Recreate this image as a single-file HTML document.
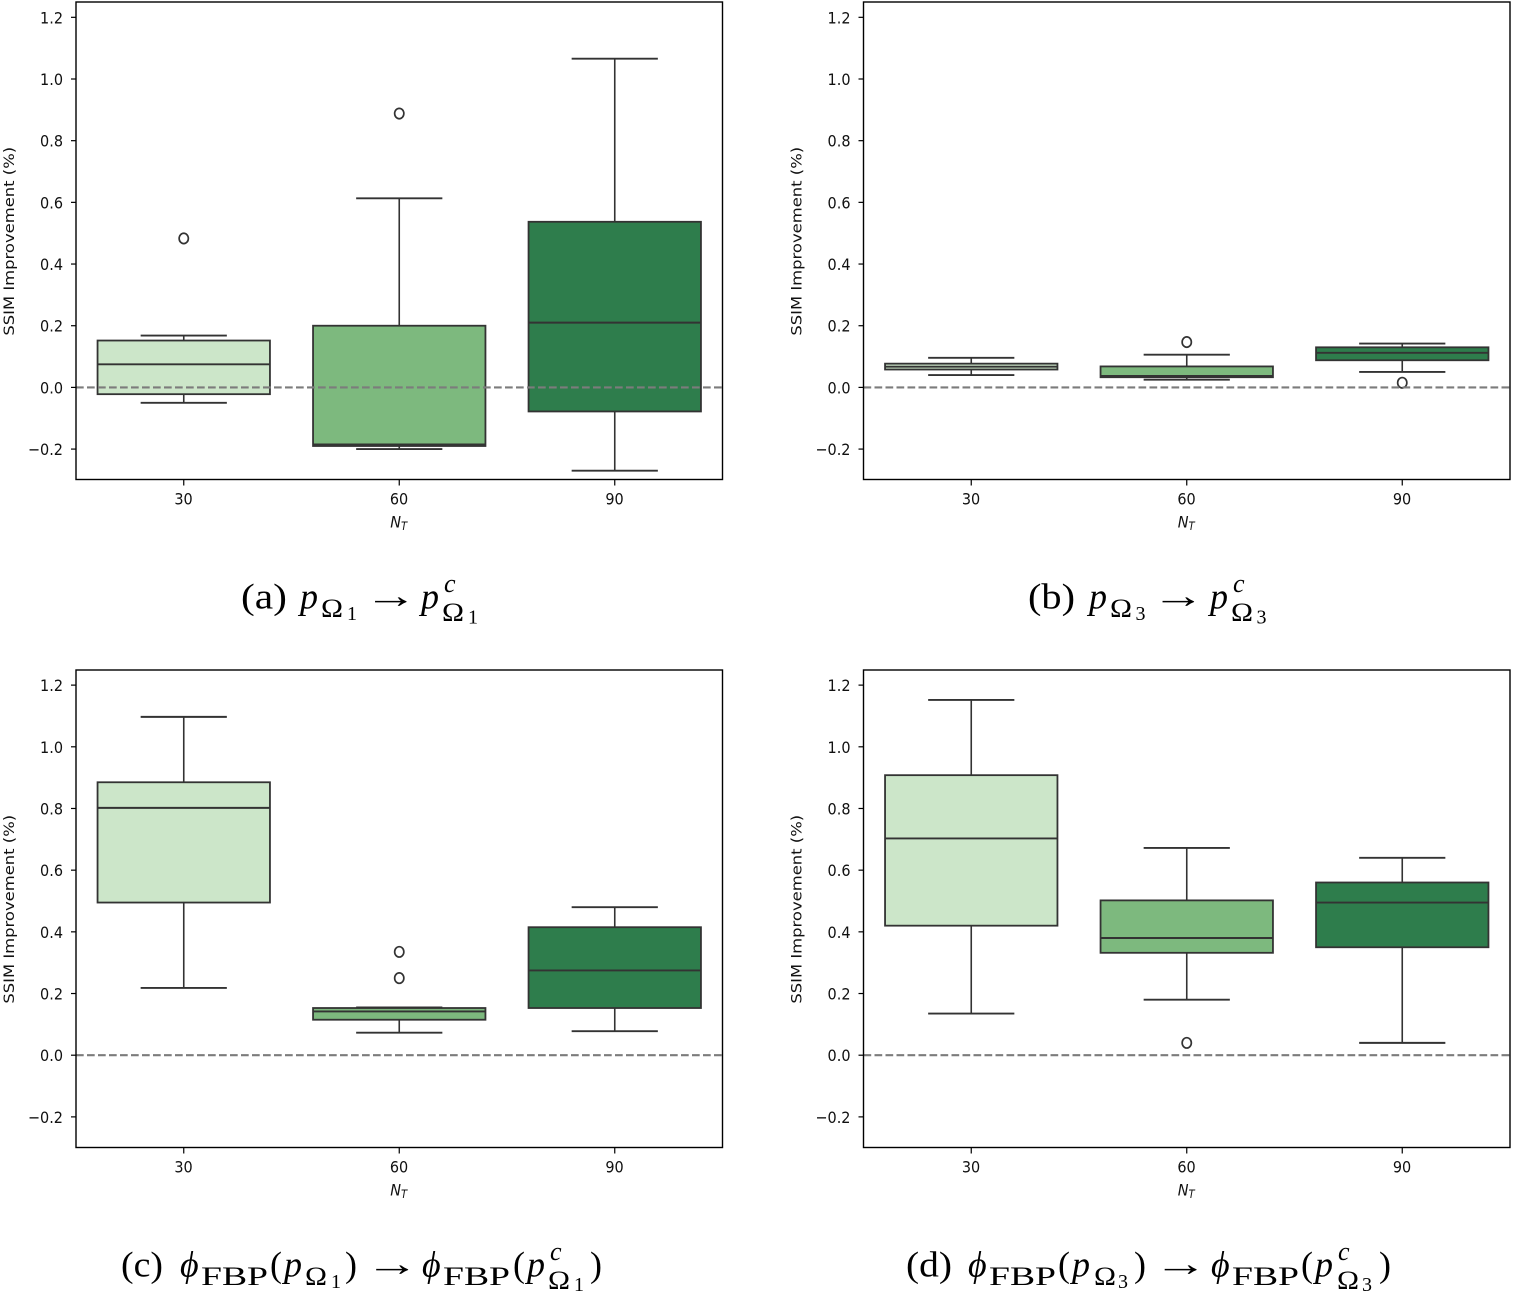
<!DOCTYPE html>
<html lang="en">
<head>
<meta charset="utf-8">
<title>SSIM improvement box plots</title>
<style>
html,body{margin:0;padding:0;background:#fff;}
#figure{display:block;filter:blur(0.35px);}
.tick{font-family:"DejaVu Sans",sans-serif;font-size:16.4px;fill:#111;}
.cap{font-family:"Liberation Serif",serif;fill:#000;}
.it{font-style:italic;}
</style>
</head>
<body>
<svg id="figure" xmlns="http://www.w3.org/2000/svg" width="1513" height="1291" viewBox="0 0 1513 1291">
  <g id="plots"></g>

  <g class="cap">
    <text x="241" y="608.5" font-size="36" textLength="46" lengthAdjust="spacingAndGlyphs">(a)</text>
    <text x="300" y="608.5" font-size="36" class="it">p</text>
    <text x="321" y="617" font-size="26" textLength="22" lengthAdjust="spacingAndGlyphs">Ω</text>
    <text x="347" y="620" font-size="20">1</text>
    <text transform="translate(364 607.5) scale(1.48 1)" font-size="36">→</text>
    <text x="421" y="608.5" font-size="36" class="it">p</text>
    <text x="444" y="592" font-size="26" class="it">c</text>
    <text x="442" y="621" font-size="26" textLength="22" lengthAdjust="spacingAndGlyphs">Ω</text>
    <text x="468" y="623.5" font-size="20">1</text>
  </g>
  <g class="cap">
    <text x="1028" y="608.5" font-size="36" textLength="47" lengthAdjust="spacingAndGlyphs">(b)</text>
    <text x="1089" y="608.5" font-size="36" class="it">p</text>
    <text x="1110" y="617" font-size="26" textLength="22" lengthAdjust="spacingAndGlyphs">Ω</text>
    <text x="1135.5" y="620" font-size="20">3</text>
    <text transform="translate(1151.5 607.5) scale(1.48 1)" font-size="36">→</text>
    <text x="1210" y="608.5" font-size="36" class="it">p</text>
    <text x="1233" y="592" font-size="26" class="it">c</text>
    <text x="1231" y="621" font-size="26" textLength="22" lengthAdjust="spacingAndGlyphs">Ω</text>
    <text x="1256.5" y="623.5" font-size="20">3</text>
  </g>
  <g class="cap">
    <text x="121" y="1276.5" font-size="36" textLength="42" lengthAdjust="spacingAndGlyphs">(c)</text>
    <text x="180" y="1276.5" font-size="36" class="it">ϕ</text>
    <text x="201" y="1285" font-size="26" textLength="67" lengthAdjust="spacingAndGlyphs" font-weight="400">FBP</text>
    <text x="270" y="1276.5" font-size="36">(</text>
    <text x="284" y="1276.5" font-size="36" class="it">p</text>
    <text x="305" y="1285" font-size="26" textLength="22" lengthAdjust="spacingAndGlyphs">Ω</text>
    <text x="331" y="1288" font-size="20">1</text>
    <text x="345" y="1276.5" font-size="36">)</text>
    <text transform="translate(365 1275.5) scale(1.5 1)" font-size="36">→</text>
    <text x="422" y="1276.5" font-size="36" class="it">ϕ</text>
    <text x="443" y="1285" font-size="26" textLength="67" lengthAdjust="spacingAndGlyphs">FBP</text>
    <text x="513" y="1276.5" font-size="36">(</text>
    <text x="527" y="1276.5" font-size="36" class="it">p</text>
    <text x="550" y="1260" font-size="26" class="it">c</text>
    <text x="548" y="1289" font-size="26" textLength="22" lengthAdjust="spacingAndGlyphs">Ω</text>
    <text x="574" y="1291" font-size="20">1</text>
    <text x="590" y="1276.5" font-size="36">)</text>
  </g>
  <g class="cap">
    <text x="906" y="1276.5" font-size="36" textLength="46" lengthAdjust="spacingAndGlyphs">(d)</text>
    <text x="968" y="1276.5" font-size="36" class="it">ϕ</text>
    <text x="989" y="1285" font-size="26" textLength="67" lengthAdjust="spacingAndGlyphs">FBP</text>
    <text x="1058" y="1276.5" font-size="36">(</text>
    <text x="1072" y="1276.5" font-size="36" class="it">p</text>
    <text x="1094" y="1285" font-size="26" textLength="22" lengthAdjust="spacingAndGlyphs">Ω</text>
    <text x="1118" y="1288" font-size="20">3</text>
    <text x="1134" y="1276.5" font-size="36">)</text>
    <text transform="translate(1153.5 1275.5) scale(1.5 1)" font-size="36">→</text>
    <text x="1211" y="1276.5" font-size="36" class="it">ϕ</text>
    <text x="1232" y="1285" font-size="26" textLength="67" lengthAdjust="spacingAndGlyphs">FBP</text>
    <text x="1301" y="1276.5" font-size="36">(</text>
    <text x="1315" y="1276.5" font-size="36" class="it">p</text>
    <text x="1338" y="1260" font-size="26" class="it">c</text>
    <text x="1337" y="1289" font-size="26" textLength="22" lengthAdjust="spacingAndGlyphs">Ω</text>
    <text x="1362" y="1291" font-size="20">3</text>
    <text x="1379" y="1276.5" font-size="36">)</text>
  </g>
</svg>
<script>
const categories = ['30', '60', '90'];
const yTicks = [-0.2, 0, 0.2, 0.4, 0.6, 0.8, 1.0, 1.2];
const yLabel = 'SSIM Improvement (%)';
const panelIds = ['a', 'b', 'c', 'd'];

// each row: whisker-low, q1, median, q3, whisker-high (one row per category)
const statsA = [[-0.05, -0.022, 0.075, 0.152, 0.168], [-0.2, -0.19, -0.185, 0.2, 0.613], [-0.27, -0.078, 0.21, 0.537, 1.066]];
const statsB = [[0.04, 0.058, 0.067, 0.077, 0.096], [0.025, 0.033, 0.037, 0.068, 0.106], [0.05, 0.088, 0.112, 0.13, 0.142]];
const statsC = [[0.218, 0.495, 0.802, 0.885, 1.097], [0.073, 0.115, 0.142, 0.153, 0.155], [0.078, 0.153, 0.275, 0.415, 0.48]];
const statsD = [[0.135, 0.42, 0.703, 0.908, 1.152], [0.18, 0.332, 0.38, 0.502, 0.672], [0.04, 0.35, 0.495, 0.56, 0.64]];

const outliersA = [[0.483], [0.888], []];
const outliersB = [[], [0.147], [0.015]];
const outliersC = [[], [0.25, 0.335], []];
const outliersD = [[], [0.04], []];

const allStats = [statsA, statsB, statsC, statsD];
const allOutliers = [outliersA, outliersB, outliersC, outliersD];

const boxColors = ['#cce6c9', '#7db97e', '#2e7d4c'];
const LINE = '#333333';
const NS = 'http://www.w3.org/2000/svg';
const root = document.getElementById('plots');
const SQUEEZE = 0.88;

const frames = [
  { left: 76, right: 722.5, top: 2, bottom: 479.5, zero: 387.4 },
  { left: 863.5, right: 1510, top: 2, bottom: 479.5, zero: 387.4 },
  { left: 76, right: 722.5, top: 670, bottom: 1147.5, zero: 1055.2 },
  { left: 863.5, right: 1510, top: 670, bottom: 1147.5, zero: 1055.2 }
];

function mk(parent, tag, props) {
  const el = document.createElementNS(NS, tag);
  for (const k in props) el.setAttribute(k, props[k]);
  parent.appendChild(el);
  return el;
}

function fmtTick(v) {
  const s = Math.abs(v).toFixed(1);
  return v < 0 ? '\u2212' + s : s;
}

frames.forEach(function (f, p) {
  const xScale = function (i) { return f.left + (i + 0.5) * (f.right - f.left) / categories.length; };
  const band = (f.right - f.left) / categories.length;
  const yScale = function (v) { return f.zero - v * 308.4; };

  const g = mk(root, 'g', {});
  
  

  allStats[p].forEach(function (s, i) {
    const cx = xScale(i);
    const bw = band * 0.8;
    const capW = band * 0.4;
    const box = mk(g, 'g', {});
    
    

    const vStyle = { stroke: LINE, 'stroke-width': 1.6, fill: 'none' };
    const hStyle = { stroke: LINE, 'stroke-width': 1.9, fill: 'none' };
    const w1 = mk(box, 'line', Object.assign({ x1: cx, x2: cx, y1: yScale(s[0]), y2: yScale(s[1]) }, vStyle));
    
    
    const w2 = mk(box, 'line', Object.assign({ x1: cx, x2: cx, y1: yScale(s[3]), y2: yScale(s[4]) }, vStyle));
    
    
    const c1 = mk(box, 'line', Object.assign({ x1: cx - capW / 2, x2: cx + capW / 2, y1: yScale(s[0]), y2: yScale(s[0]) }, hStyle));
    
    
    const c2 = mk(box, 'line', Object.assign({ x1: cx - capW / 2, x2: cx + capW / 2, y1: yScale(s[4]), y2: yScale(s[4]) }, hStyle));
    
    
    const rect = mk(box, 'rect', { x: cx - bw / 2, y: yScale(s[3]), width: bw, height: yScale(s[1]) - yScale(s[3]), fill: boxColors[i], stroke: LINE, 'stroke-width': 1.8 });
    
    
    const med = mk(box, 'line', Object.assign({ x1: cx - bw / 2, x2: cx + bw / 2, y1: yScale(s[2]), y2: yScale(s[2]) }, hStyle));
    
    

    allOutliers[p][i].forEach(function (o) {
      const dot = mk(box, 'ellipse', { cx: cx, cy: yScale(o), rx: 4.6, ry: 5.2, fill: 'none', stroke: LINE, 'stroke-width': 1.7 });
      
      
    });
  });

  const zeroLine = mk(g, 'line', { x1: f.left, x2: f.right, y1: yScale(0), y2: yScale(0), stroke: '#7c7c7c', 'stroke-width': 2.1, 'stroke-dasharray': '7.7 3.3' });
  
  

  const frame = mk(g, 'rect', { x: f.left, y: f.top, width: f.right - f.left, height: f.bottom - f.top, fill: 'none', stroke: '#000', 'stroke-width': 1.4 });
  
  

  yTicks.forEach(function (v) {
    const y = yScale(v);
    const t = mk(g, 'line', { x1: f.left - 5, x2: f.left, y1: y, y2: y, stroke: '#000', 'stroke-width': 1.2 });
    
    
    const lab = mk(g, 'text', { 'text-anchor': 'end', 'class': 'tick', transform: 'translate(' + (f.left - 13) + ' ' + (y + 6) + ') scale(' + SQUEEZE + ' 1)' });
    lab.textContent = fmtTick(v);
    
    
  });

  categories.forEach(function (c, i) {
    const x = xScale(i);
    const t = mk(g, 'line', { x1: x, x2: x, y1: f.bottom, y2: f.bottom + 6, stroke: '#000', 'stroke-width': 1.2 });
    
    
    const lab = mk(g, 'text', { 'text-anchor': 'middle', 'class': 'tick', transform: 'translate(' + (x - 0.2) + ' ' + (f.bottom + 25) + ') scale(' + SQUEEZE + ' 1)' });
    lab.textContent = c;
    
    
  });

  const midX = (f.left + f.right) / 2;
  const xt = mk(g, 'text', { 'text-anchor': 'middle', 'class': 'tick', 'font-style': 'italic', transform: 'translate(' + (midX - 0.5) + ' ' + (f.bottom + 48) + ') scale(' + SQUEEZE + ' 1)' });
  xt.textContent = 'N';
  const sub = mk(xt, 'tspan', { 'font-size': '11.5', dy: '2.5' });
  sub.textContent = 'T';
  
  

  const yc = (f.top + f.bottom) / 2 + 0.5;
  const yx = f.left - 62;
  const yt = mk(g, 'text', { 'text-anchor': 'middle', 'class': 'tick', transform: 'translate(' + yx + ' ' + yc + ') scale(' + SQUEEZE + ' 1) rotate(-90)' });
  yt.textContent = yLabel;
  
  
});
</script>
</body>
</html>
